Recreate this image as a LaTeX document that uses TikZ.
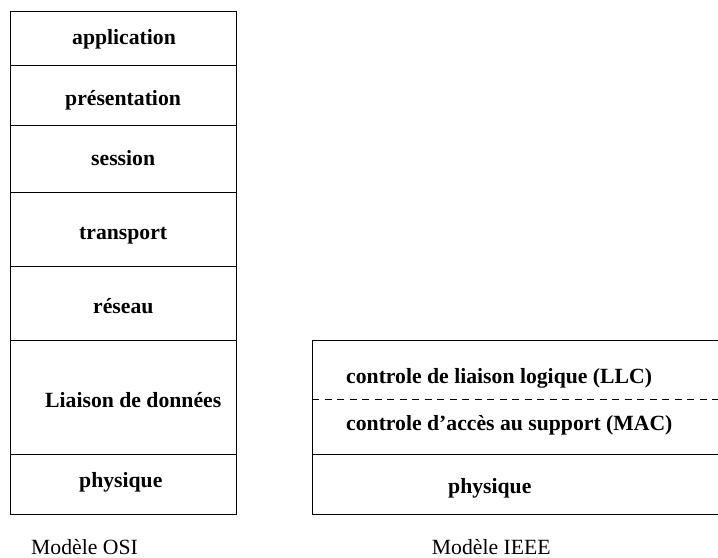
\documentclass[tikz,border=0pt]{standalone}
\usepackage{fontspec}
\setmainfont{Liberation Serif}
\begin{document}
\begin{tikzpicture}[x=1bp,y=-1bp,
  layer/.style={draw=black,line width=1bp},
  sep/.style={draw=black,line width=1bp},
  sepdash/.style={draw=black,line width=1bp,dash pattern=on 7bp off 5.5bp},
  lbl/.style={anchor=base west,inner sep=0pt,font=\fontsize{21.7bp}{26bp}\selectfont\bfseries},
  modeltitle/.style={anchor=base west,inner sep=0pt,font=\fontsize{21.7bp}{26bp}\selectfont}]
\useasboundingbox (0,0) rectangle (718,558);

% OSI stack
\draw[layer] (10,12) rectangle (236.5,514);
\foreach \y in {65.3,126,192.7,266.7,340,454}
  \draw[sep] (10,\y) -- (236.5,\y);
\node[lbl] (app)  at (72,45)    {application};
\node[lbl] (pres) at (65,106)   {présentation};
\node[lbl] (sess) at (91,166)   {session};
\node[lbl] (tran) at (79,240)   {transport};
\node[lbl] (res)  at (93,313.3) {réseau};
\node[lbl] (liai) at (45,407.5) {Liaison de données};
\node[lbl] (phy)  at (79,487)   {physique};
\node[modeltitle] (osi)  at (31,554) {Modèle OSI};

% IEEE stack (open on the right)
\draw[layer] (718,340) -- (312,340) -- (312,514) -- (718,514);
\draw[sep] (312,454) -- (718,454);
\draw[sepdash] (312,399.5) -- (718,399.5);
\node[lbl] (llc)  at (346,383.3) {controle de liaison logique (LLC)};
\node[lbl] (mac)  at (346,430)   {controle d’accès au support (MAC)};
\node[lbl] (phy2) at (448,493)   {physique};
\node[modeltitle] (ieee) at (431.7,554) {Modèle IEEE};
\end{tikzpicture}
\end{document}
